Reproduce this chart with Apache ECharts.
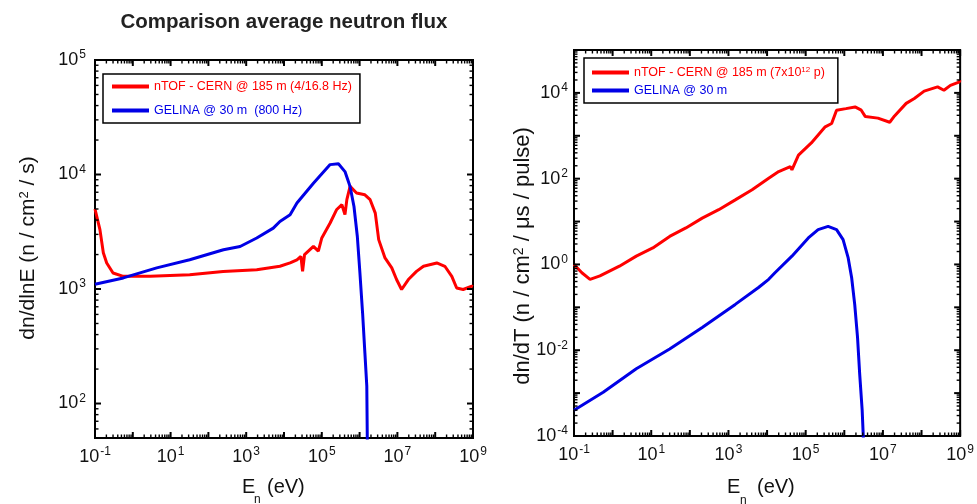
<!DOCTYPE html>
<html>
<head>
<meta charset="utf-8">
<script src="https://cdn.jsdelivr.net/npm/echarts@6/dist/echarts.min.js"></script>
<style>
  html, body { margin: 0; padding: 0; background: #fff; }
  #chart { width: 977px; height: 504px; }
</style>
</head>
<body>
<div id="chart"></div>
<script>
// Neutron energy grid (eV) and fluxes, read per curve.

// Left panel: dn/dlnE (n / cm^2 / s)
const leftNtofE = [0.1, 0.135, 0.166, 0.204, 0.30, 0.56, 2.9, 32, 245, 1.9e3, 7.8e3, 1.45e4, 2.2e4, 2.8e4, 3.1e4, 3.5e4, 6.0e4, 8.1e4, 1.0e5, 1.66e5, 2.45e5, 3.4e5, 4.1e5, 4.6e5, 5.6e5, 8.3e5, 1.38e6, 1.9e6, 2.6e6, 3.2e6, 4.7e6, 7.1e6, 9.5e6, 1.29e7, 1.95e7, 3.2e7, 4.9e7, 1.1e8, 1.8e8, 2.75e8, 3.7e8, 5.5e8, 9.3e8, 1e9];
const leftNtofFlux = [5000, 3300, 2070, 1690, 1380, 1290, 1290, 1335, 1425, 1475, 1580, 1690, 1800, 1930, 1430, 2000, 2360, 2140, 2790, 3770, 4920, 5450, 4460, 6030, 7870, 6890, 6650, 6030, 4600, 2700, 1870, 1530, 1210, 990, 1210, 1425, 1580, 1690, 1580, 1290, 1020, 990, 1060, 1050];

const leftGelinaE = [0.1, 0.56, 4.3, 32, 250, 690, 1.9e3, 5.2e3, 7.8e3, 1.45e4, 2.2e4, 6.0e4, 1.66e5, 2.75e5, 4.1e5, 5.6e5, 7.1e5, 8.7e5, 1.02e6, 1.2e6, 1.38e6, 1.55e6, 1.62e6];
const leftGelinaFlux = [1100, 1250, 1530, 1800, 2200, 2350, 2790, 3400, 3890, 4450, 5630, 8400, 12200, 12400, 10600, 7870, 5260, 2890, 1380, 617, 277, 142, 30];

// Right panel: dn/dT (n / cm^2 / us / pulse)
const rightNtofE = [0.1, 0.16, 0.26, 0.47, 1.5, 4.1, 11, 30, 79, 209, 560, 1.5e3, 4.1e3, 1.1e4, 2.0e4, 4.0e4, 4.4e4, 6.5e4, 1.4e5, 3.2e5, 4.7e5, 6.3e5, 6.9e5, 1.1e6, 1.9e6, 2.75e6, 3.5e6, 7.4e6, 1.5e7, 2.0e7, 4.0e7, 6.5e7, 1.17e8, 2.6e8, 3.8e8, 5.6e8, 9.3e8, 1e9];
const rightNtofFlux = [1.0, 0.64, 0.45, 0.54, 0.91, 1.56, 2.43, 4.5, 7.1, 12, 18.9, 32, 55, 102, 146, 190, 160, 355, 680, 1620, 1930, 3950, 4300, 4300, 4700, 3950, 2800, 2580, 2070, 2900, 5700, 7400, 11000, 13800, 11500, 15000, 17800, 20000];

const rightGelinaE = [0.1, 0.57, 4.1, 30, 209, 1.5e3, 6.0e3, 1.1e4, 1.6e4, 4.4e4, 1.17e5, 2.1e5, 3.8e5, 6.3e5, 9.3e5, 1.26e6, 1.55e6, 1.86e6, 2.2e6, 2.5e6, 2.9e6, 3.2e6];
const rightGelinaFlux = [4.0e-4, 1.05e-3, 3.7e-3, 0.0107, 0.034, 0.117, 0.29, 0.45, 0.64, 1.56, 4.14, 6.5, 7.7, 6.5, 3.8, 1.42, 0.49, 0.117, 0.02, 2.8e-3, 4e-4, 5e-5];

// Axis ranges
const xRange = [0.1, 1e9];
const leftYRange = [50, 1e5];
const rightYRange = [1e-4, 1e5];

// Series names (legend text)
const leftNames = ['nTOF - CERN @ 185 m (4/16.8 Hz)', 'GELINA @ 30 m  (800 Hz)'];
const rightNames = ['nTOF - CERN @ 185 m (7x10{sup|12} p)', 'GELINA @ 30 m'];

const RED = '#ff0000';
const BLUE = '#0000e6';
const FONT = '"Liberation Sans", Arial, sans-serif';
const LEGEND_FONT_SIZE = 12.5;

function pairs(xs, ys) { return xs.map((x, i) => [x, ys[i]]); }

// 10^n tick labels; keep(n) decides which decades get a label
function powLabel(keep) {
  return function (v) {
    const e = Math.log10(v);
    const r = Math.round(e);
    if (Math.abs(e - r) > 1e-6 || !keep(r)) return '';
    return '{b|10}{s|' + (r < 0 ? '-' + (-r) : r) + '}';
  };
}
const labelRich = {
  b: { fontSize: 18, lineHeight: 22, fontFamily: FONT, color: '#111' },
  s: { fontSize: 12, lineHeight: 12, fontFamily: FONT, color: '#111', verticalAlign: 'top', padding: [0, 0, 0, 1] }
};

// Ticks on all four sides of a frame: decades are major, 2..9 x decade are minor
function tickData(xr, yr) {
  const out = [];
  for (let k = Math.floor(Math.log10(xr[0])); k <= Math.ceil(Math.log10(xr[1])); k++) {
    for (let m = 1; m <= 9; m++) {
      const v = m * Math.pow(10, k);
      if (v >= xr[0] * 0.999 && v <= xr[1] * 1.001) out.push([v, yr[0], 0, m === 1 ? 1 : 0]);
    }
  }
  for (let k = Math.floor(Math.log10(yr[0])); k <= Math.ceil(Math.log10(yr[1])); k++) {
    for (let m = 1; m <= 9; m++) {
      const v = m * Math.pow(10, k);
      if (v >= yr[0] * 0.999 && v <= yr[1] * 1.001) out.push([xr[0], v, 1, m === 1 ? 1 : 0]);
    }
  }
  return out;
}
function renderTick(params, api) {
  const p = api.coord([api.value(0), api.value(1)]);
  const cs = params.coordSys;
  const major = api.value(3) === 1;
  const len = major ? 6 : 3.5;
  const style = { stroke: '#000', lineWidth: major ? 2 : 1.4 };
  let a, b;
  if (api.value(2) === 0) {
    const x = p[0];
    a = { x1: x, y1: cs.y + cs.height, x2: x, y2: cs.y + cs.height - len };
    b = { x1: x, y1: cs.y, x2: x, y2: cs.y + len };
  } else {
    const y = p[1];
    a = { x1: cs.x, y1: y, x2: cs.x + len, y2: y };
    b = { x1: cs.x + cs.width, y1: y, x2: cs.x + cs.width - len, y2: y };
  }
  return { type: 'group', children: [
    { type: 'line', shape: a, style: style },
    { type: 'line', shape: b, style: style }
  ] };
}

function xAxisCfg(gridIndex, margin) {
  return {
    type: 'log', logBase: 10, gridIndex: gridIndex,
    min: xRange[0], max: xRange[1], interval: 1,
    axisLine: { show: false }, axisTick: { show: false }, splitLine: { show: false },
    axisLabel: { interval: 0, hideOverlap: false, margin: margin, formatter: powLabel(r => Math.abs(r) % 2 === 1), rich: labelRich }
  };
}
function yAxisCfg(gridIndex, range, keep, margin) {
  return {
    type: 'log', logBase: 10, gridIndex: gridIndex,
    min: range[0], max: range[1],
    axisLine: { show: false }, axisTick: { show: false }, splitLine: { show: false },
    axisLabel: { interval: 0, hideOverlap: false, margin: margin, formatter: powLabel(keep), rich: labelRich }
  };
}
function curve(name, idx, data, color) {
  return {
    type: 'line', name: name, xAxisIndex: idx, yAxisIndex: idx, data: data,
    showSymbol: false, symbol: 'none', clip: true, z: 3,
    lineStyle: { color: color, width: 3 }, itemStyle: { color: color }
  };
}
function legendItem(name, color) {
  return { name: name, itemStyle: { color: color }, textStyle: { color: color } };
}

const chart = echarts.init(document.getElementById('chart'), null, { renderer: 'canvas' });

const option = {
  animation: false,
  backgroundColor: '#fff',
  textStyle: { fontFamily: FONT },
  grid: [
    { left: 95, top: 60, width: 378, height: 378, show: true, borderColor: '#000', borderWidth: 2, backgroundColor: 'transparent', containLabel: false },
    { left: 574, top: 50, width: 389, height: 386, show: true, borderColor: '#000', borderWidth: 2, backgroundColor: 'transparent', containLabel: false }
  ],
  xAxis: [xAxisCfg(0, 8), xAxisCfg(1, 8)],
  yAxis: [
    yAxisCfg(0, leftYRange, r => true, 9),
    yAxisCfg(1, rightYRange, r => r % 2 === 0, 6)
  ],
  legend: [
    {
      left: 103, top: 74, orient: 'vertical', padding: [6, 8, 6, 9], itemGap: 11,
      borderColor: '#000', borderWidth: 1.5, icon: 'rect', itemWidth: 37, itemHeight: 4,
      textStyle: { fontFamily: FONT, fontSize: LEGEND_FONT_SIZE, lineHeight: 13 },
      data: [legendItem(leftNames[0], RED), legendItem(leftNames[1], BLUE)]
    },
    {
      left: 584, top: 58, orient: 'vertical', padding: [8, 13, 6, 8], itemGap: 5,
      borderColor: '#000', borderWidth: 1.5, icon: 'rect', itemWidth: 37, itemHeight: 4,
      textStyle: {
        fontFamily: FONT, fontSize: LEGEND_FONT_SIZE, lineHeight: 13,
        rich: { sup: { fontSize: 8, lineHeight: 13, color: RED, verticalAlign: 'top', fontFamily: FONT } }
      },
      data: [legendItem(rightNames[0], RED), legendItem(rightNames[1], BLUE)]
    }
  ],
  graphic: [
    { type: 'text', x: 284, y: 22, style: { text: 'Comparison average neutron flux', font: 'bold 20.5px ' + FONT, fill: '#222', align: 'center', verticalAlign: 'middle' } },
    // x-axis titles: E with subscript n
    { type: 'group', x: 242, y: 487, children: [
      { type: 'text', x: 0, y: 0, style: { text: 'E', font: '20px ' + FONT, fill: '#111', verticalAlign: 'middle' } },
      { type: 'text', x: 12, y: 13, style: { text: 'n', font: '12px ' + FONT, fill: '#111', verticalAlign: 'middle' } },
      { type: 'text', x: 25, y: 0, style: { text: '(eV)', font: '20px ' + FONT, fill: '#111', verticalAlign: 'middle' } }
    ] },
    { type: 'group', x: 727, y: 487, children: [
      { type: 'text', x: 0, y: 0, style: { text: 'E', font: '20px ' + FONT, fill: '#111', verticalAlign: 'middle' } },
      { type: 'text', x: 13, y: 14, style: { text: 'n', font: '12px ' + FONT, fill: '#111', verticalAlign: 'middle' } },
      { type: 'text', x: 30, y: 0, style: { text: '(eV)', font: '20px ' + FONT, fill: '#111', verticalAlign: 'middle' } }
    ] },
    // y-axis titles
    { type: 'text', x: 28, y: 248, rotation: Math.PI / 2, style: {
      text: 'dn/dlnE (n / cm{s|2} / s)', font: '21px ' + FONT, fill: '#111', align: 'center', verticalAlign: 'middle',
      rich: { s: { fontSize: 13, fontFamily: FONT, verticalAlign: 'top', fill: '#111' } } } },
    { type: 'text', x: 523, y: 256, rotation: Math.PI / 2, style: {
      text: 'dn/dT (n / cm{s|2} / \u03bcs / pulse)', font: '22px ' + FONT, fill: '#111', align: 'center', verticalAlign: 'middle',
      rich: { s: { fontSize: 14, fontFamily: FONT, verticalAlign: 'top', fill: '#111' } } } }
  ],
  series: [
    curve(leftNames[0], 0, pairs(leftNtofE, leftNtofFlux), RED),
    curve(leftNames[1], 0, pairs(leftGelinaE, leftGelinaFlux), BLUE),
    curve(rightNames[0], 1, pairs(rightNtofE, rightNtofFlux), RED),
    curve(rightNames[1], 1, pairs(rightGelinaE, rightGelinaFlux), BLUE),
    { type: 'custom', name: 'frameTicksL', xAxisIndex: 0, yAxisIndex: 0, silent: true, clip: false, z: 5,
      data: tickData(xRange, leftYRange), renderItem: renderTick },
    { type: 'custom', name: 'frameTicksR', xAxisIndex: 1, yAxisIndex: 1, silent: true, clip: false, z: 5,
      data: tickData(xRange, rightYRange), renderItem: renderTick }
  ]
};
chart.setOption(option);
</script>
</body>
</html>
